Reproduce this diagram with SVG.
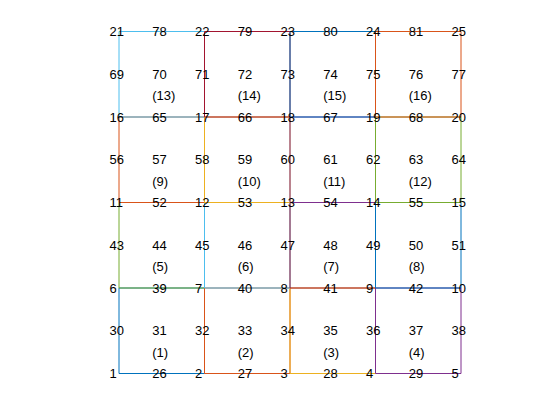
<svg xmlns="http://www.w3.org/2000/svg" width="560" height="420" viewBox="0 0 560 420">
<style>
.t{font-family:"Liberation Sans",Arial,sans-serif;font-size:13px;fill:#000}
.e{fill:none;stroke-width:1}
</style>
<rect width="560" height="420" fill="#fff"/>
<g id="connectors">
<path id="el1" class="e" stroke="#0072BD" d="M119 373.5H204.5V288H119Z"/>
<path id="el2" class="e" stroke="#D95319" d="M204.5 373.5H290V288H204.5Z"/>
<path id="el3" class="e" stroke="#EDB120" d="M290 373.5H375.5V288H290Z"/>
<path id="el4" class="e" stroke="#7E2F8E" d="M375.5 373.5H461V288H375.5Z"/>
<path id="el5" class="e" stroke="#77AC30" d="M119 288H204.5V202.5H119Z"/>
<path id="el6" class="e" stroke="#4DBEEE" d="M204.5 288H290V202.5H204.5Z"/>
<path id="el7" class="e" stroke="#A2142F" d="M290 288H375.5V202.5H290Z"/>
<path id="el8" class="e" stroke="#0072BD" d="M375.5 288H461V202.5H375.5Z"/>
<path id="el9" class="e" stroke="#D95319" d="M119 202.5H204.5V117H119Z"/>
<path id="el10" class="e" stroke="#EDB120" d="M204.5 202.5H290V117H204.5Z"/>
<path id="el11" class="e" stroke="#7E2F8E" d="M290 202.5H375.5V117H290Z"/>
<path id="el12" class="e" stroke="#77AC30" d="M375.5 202.5H461V117H375.5Z"/>
<path id="el13" class="e" stroke="#4DBEEE" d="M119 117H204.5V31.5H119Z"/>
<path id="el14" class="e" stroke="#A2142F" d="M204.5 117H290V31.5H204.5Z"/>
<path id="el15" class="e" stroke="#0072BD" d="M290 117H375.5V31.5H290Z"/>
<path id="el16" class="e" stroke="#D95319" d="M375.5 117H461V31.5H375.5Z"/>
</g>
<g id="n1"><text class="t" x="109.5" y="378.2">1</text></g>
<g id="n26"><text class="t" x="152.25" y="378.2">26</text></g>
<g id="n2"><text class="t" x="195" y="378.2">2</text></g>
<g id="n27"><text class="t" x="237.75" y="378.2">27</text></g>
<g id="n3"><text class="t" x="280.5" y="378.2">3</text></g>
<g id="n28"><text class="t" x="323.25" y="378.2">28</text></g>
<g id="n4"><text class="t" x="366" y="378.2">4</text></g>
<g id="n29"><text class="t" x="408.75" y="378.2">29</text></g>
<g id="n5"><text class="t" x="451.5" y="378.2">5</text></g>
<g id="n30"><text class="t" x="109.5" y="335.45">30</text></g>
<g id="n31"><text class="t" x="152.25" y="335.45">31</text></g>
<g id="n32"><text class="t" x="195" y="335.45">32</text></g>
<g id="n33"><text class="t" x="237.75" y="335.45">33</text></g>
<g id="n34"><text class="t" x="280.5" y="335.45">34</text></g>
<g id="n35"><text class="t" x="323.25" y="335.45">35</text></g>
<g id="n36"><text class="t" x="366" y="335.45">36</text></g>
<g id="n37"><text class="t" x="408.75" y="335.45">37</text></g>
<g id="n38"><text class="t" x="451.5" y="335.45">38</text></g>
<g id="n6"><text class="t" x="109.5" y="292.7">6</text></g>
<g id="n39"><text class="t" x="152.25" y="292.7">39</text></g>
<g id="n7"><text class="t" x="195" y="292.7">7</text></g>
<g id="n40"><text class="t" x="237.75" y="292.7">40</text></g>
<g id="n8"><text class="t" x="280.5" y="292.7">8</text></g>
<g id="n41"><text class="t" x="323.25" y="292.7">41</text></g>
<g id="n9"><text class="t" x="366" y="292.7">9</text></g>
<g id="n42"><text class="t" x="408.75" y="292.7">42</text></g>
<g id="n10"><text class="t" x="451.5" y="292.7">10</text></g>
<g id="n43"><text class="t" x="109.5" y="249.95">43</text></g>
<g id="n44"><text class="t" x="152.25" y="249.95">44</text></g>
<g id="n45"><text class="t" x="195" y="249.95">45</text></g>
<g id="n46"><text class="t" x="237.75" y="249.95">46</text></g>
<g id="n47"><text class="t" x="280.5" y="249.95">47</text></g>
<g id="n48"><text class="t" x="323.25" y="249.95">48</text></g>
<g id="n49"><text class="t" x="366" y="249.95">49</text></g>
<g id="n50"><text class="t" x="408.75" y="249.95">50</text></g>
<g id="n51"><text class="t" x="451.5" y="249.95">51</text></g>
<g id="n11"><text class="t" x="109.5" y="207.2">11</text></g>
<g id="n52"><text class="t" x="152.25" y="207.2">52</text></g>
<g id="n12"><text class="t" x="195" y="207.2">12</text></g>
<g id="n53"><text class="t" x="237.75" y="207.2">53</text></g>
<g id="n13"><text class="t" x="280.5" y="207.2">13</text></g>
<g id="n54"><text class="t" x="323.25" y="207.2">54</text></g>
<g id="n14"><text class="t" x="366" y="207.2">14</text></g>
<g id="n55"><text class="t" x="408.75" y="207.2">55</text></g>
<g id="n15"><text class="t" x="451.5" y="207.2">15</text></g>
<g id="n56"><text class="t" x="109.5" y="164.45">56</text></g>
<g id="n57"><text class="t" x="152.25" y="164.45">57</text></g>
<g id="n58"><text class="t" x="195" y="164.45">58</text></g>
<g id="n59"><text class="t" x="237.75" y="164.45">59</text></g>
<g id="n60"><text class="t" x="280.5" y="164.45">60</text></g>
<g id="n61"><text class="t" x="323.25" y="164.45">61</text></g>
<g id="n62"><text class="t" x="366" y="164.45">62</text></g>
<g id="n63"><text class="t" x="408.75" y="164.45">63</text></g>
<g id="n64"><text class="t" x="451.5" y="164.45">64</text></g>
<g id="n16"><text class="t" x="109.5" y="121.7">16</text></g>
<g id="n65"><text class="t" x="152.25" y="121.7">65</text></g>
<g id="n17"><text class="t" x="195" y="121.7">17</text></g>
<g id="n66"><text class="t" x="237.75" y="121.7">66</text></g>
<g id="n18"><text class="t" x="280.5" y="121.7">18</text></g>
<g id="n67"><text class="t" x="323.25" y="121.7">67</text></g>
<g id="n19"><text class="t" x="366" y="121.7">19</text></g>
<g id="n68"><text class="t" x="408.75" y="121.7">68</text></g>
<g id="n20"><text class="t" x="451.5" y="121.7">20</text></g>
<g id="n69"><text class="t" x="109.5" y="78.95">69</text></g>
<g id="n70"><text class="t" x="152.25" y="78.95">70</text></g>
<g id="n71"><text class="t" x="195" y="78.95">71</text></g>
<g id="n72"><text class="t" x="237.75" y="78.95">72</text></g>
<g id="n73"><text class="t" x="280.5" y="78.95">73</text></g>
<g id="n74"><text class="t" x="323.25" y="78.95">74</text></g>
<g id="n75"><text class="t" x="366" y="78.95">75</text></g>
<g id="n76"><text class="t" x="408.75" y="78.95">76</text></g>
<g id="n77"><text class="t" x="451.5" y="78.95">77</text></g>
<g id="n21"><text class="t" x="109.5" y="36.2">21</text></g>
<g id="n78"><text class="t" x="152.25" y="36.2">78</text></g>
<g id="n22"><text class="t" x="195" y="36.2">22</text></g>
<g id="n79"><text class="t" x="237.75" y="36.2">79</text></g>
<g id="n23"><text class="t" x="280.5" y="36.2">23</text></g>
<g id="n80"><text class="t" x="323.25" y="36.2">80</text></g>
<g id="n24"><text class="t" x="366" y="36.2">24</text></g>
<g id="n81"><text class="t" x="408.75" y="36.2">81</text></g>
<g id="n25"><text class="t" x="451.5" y="36.2">25</text></g>
<g id="e1"><text class="t" x="152.25" y="356.55">(1)</text></g>
<g id="e2"><text class="t" x="237.75" y="356.55">(2)</text></g>
<g id="e3"><text class="t" x="323.25" y="356.55">(3)</text></g>
<g id="e4"><text class="t" x="408.75" y="356.55">(4)</text></g>
<g id="e5"><text class="t" x="152.25" y="271.05">(5)</text></g>
<g id="e6"><text class="t" x="237.75" y="271.05">(6)</text></g>
<g id="e7"><text class="t" x="323.25" y="271.05">(7)</text></g>
<g id="e8"><text class="t" x="408.75" y="271.05">(8)</text></g>
<g id="e9"><text class="t" x="152.25" y="185.55">(9)</text></g>
<g id="e10"><text class="t" x="237.75" y="185.55">(10)</text></g>
<g id="e11"><text class="t" x="323.25" y="185.55">(11)</text></g>
<g id="e12"><text class="t" x="408.75" y="185.55">(12)</text></g>
<g id="e13"><text class="t" x="152.25" y="100.05">(13)</text></g>
<g id="e14"><text class="t" x="237.75" y="100.05">(14)</text></g>
<g id="e15"><text class="t" x="323.25" y="100.05">(15)</text></g>
<g id="e16"><text class="t" x="408.75" y="100.05">(16)</text></g>
</svg>
